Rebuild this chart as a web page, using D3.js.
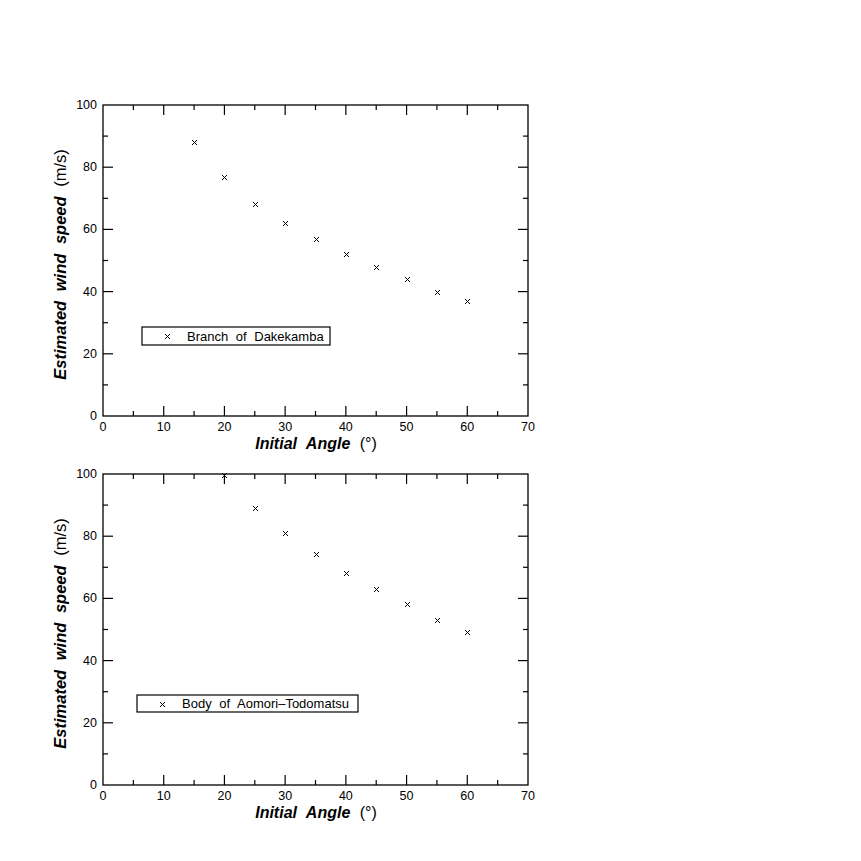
<!DOCTYPE html>
<html>
<head>
<meta charset="utf-8">
<script src="https://cdn.jsdelivr.net/npm/d3@7"></script>
<style>
	body { margin: 0; background: #fff; }
	text { font-family: "Liberation Sans", Arial, sans-serif; fill: #000; }
</style>
</head>
<body>
<script>
const angles = [15, 20, 25, 30, 35, 40, 45, 50, 55, 60];
const branchSpeed = [88, 77, 68.2, 62, 57, 52, 48, 44, 40, 37];
const bodyAngles = [20, 25, 30, 35, 40, 45, 50, 55, 60];
const bodySpeed = [99.7, 89, 81, 74.3, 68.2, 63, 58.2, 53.1, 49.2];
const xTicks = [0, 10, 20, 30, 40, 50, 60, 70];
const yTicks = [0, 20, 40, 60, 80, 100];

const panels = [
	{ top: 105, xs: angles, ys: branchSpeed, name: "Branch of Dakekamba", box: [142, 327, 188, 18] },
	{ top: 474, xs: bodyAngles, ys: bodySpeed, name: "Body of Aomori\u2013Todomatsu", box: [137, 695, 221, 17] }
];

const svg = d3.select("body").append("svg")
	.attr("width", 861)
	.attr("height", 861);

const left = 103, right = 528, plotH = 311;

panels.forEach(p => {
	const x = d3.scaleLinear().domain([0, 70]).range([left, right]);
	const y = d3.scaleLinear().domain([0, 100]).range([p.top + plotH, p.top]);
	const g = svg.append("g");

	// frame
	g.append("rect")
		.attr("x", left).attr("y", p.top)
		.attr("width", right - left).attr("height", plotH)
		.attr("fill", "none").attr("stroke", "#000").attr("stroke-width", 1.3);

	// inward ticks on all four sides
	const xMinor = d3.range(5, 70, 10);
	const yMinor = d3.range(10, 100, 20);
	const tick = (x1, y1, x2, y2) => g.append("line")
		.attr("x1", x1).attr("y1", y1).attr("x2", x2).attr("y2", y2)
		.attr("stroke", "#000").attr("stroke-width", 1.2);
	xTicks.slice(1, -1).forEach(v => {
		tick(x(v), p.top + plotH, x(v), p.top + plotH - 10);
		tick(x(v), p.top, x(v), p.top + 10);
	});
	xMinor.forEach(v => {
		tick(x(v), p.top + plotH, x(v), p.top + plotH - 5);
		tick(x(v), p.top, x(v), p.top + 5);
	});
	yTicks.slice(1, -1).forEach(v => {
		tick(left, y(v), left + 10, y(v));
		tick(right, y(v), right - 10, y(v));
	});
	yMinor.forEach(v => {
		tick(left, y(v), left + 5, y(v));
		tick(right, y(v), right - 5, y(v));
	});

	// tick labels
	g.selectAll(".xl").data(xTicks).enter().append("text")
		.attr("x", d => x(d)).attr("y", p.top + plotH + 15)
		.attr("text-anchor", "middle").attr("font-size", 12.5)
		.text(d => d);
	g.selectAll(".yl").data(yTicks).enter().append("text")
		.attr("x", left - 6).attr("y", d => y(d) + 4)
		.attr("text-anchor", "end").attr("font-size", 12.5)
		.text(d => d);

	// axis titles
	const xt = g.append("text")
		.attr("x", 316).attr("y", p.top + plotH + 33)
		.attr("text-anchor", "middle").attr("font-size", 16)
		.style("word-spacing", "5px");
	xt.append("tspan").attr("font-weight", "bold").attr("font-style", "italic").text("Initial Angle");
	xt.append("tspan").text(" (\u00b0)");

	const yt = g.append("text")
		.attr("transform", `translate(66,${p.top + plotH / 2 + 4}) rotate(-90)`)
		.attr("text-anchor", "middle").attr("font-size", 16.5)
		.style("word-spacing", "5px");
	yt.append("tspan").attr("font-weight", "bold").attr("font-style", "italic").text("Estimated wind speed");
	yt.append("tspan").text(" (m/s)");

	// points as small crosses
	const cross = (cx, cy) => `M${cx - 2.5},${cy - 2.5}L${cx + 2.5},${cy + 2.5}M${cx - 2.5},${cy + 2.5}L${cx + 2.5},${cy - 2.5}`;
	g.selectAll(".pt").data(p.xs.map((d, i) => [d, p.ys[i]])).enter().append("path")
		.attr("d", d => cross(Math.round(x(d[0])) + 0.5, Math.round(y(d[1])) + 0.5))
		.attr("stroke", "#000").attr("stroke-width", 1).attr("fill", "none");

	// legend
	const [bx, by, bw, bh] = p.box;
	g.append("rect")
		.attr("x", bx).attr("y", by).attr("width", bw).attr("height", bh)
		.attr("fill", "#fff").attr("stroke", "#000").attr("stroke-width", 1.2);
	g.append("path")
		.attr("d", cross(bx + 25.5, Math.round(by + bh / 2) + 0.5))
		.attr("stroke", "#000").attr("stroke-width", 1).attr("fill", "none");
	g.append("text")
		.attr("x", bx + 45).attr("y", by + bh / 2 + 4.5)
		.attr("font-size", 13)
		.style("word-spacing", "4px")
		.text(p.name);
});
</script>
</body>
</html>
